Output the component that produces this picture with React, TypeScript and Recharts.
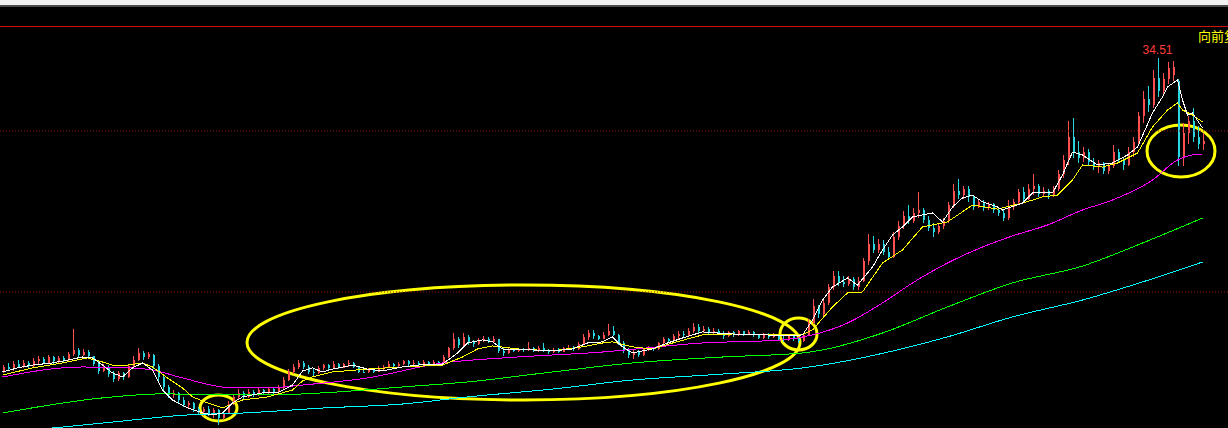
import {
  ComposedChart,
  Bar,
  Line,
  XAxis,
  YAxis,
  ReferenceLine,
  ReferenceArea,
  ReferenceDot,
} from "recharts";

// daily candles, index = trading day
const OPEN = [
  15.1, 15.35, 15.2, 15.55, 15.35, 15.6, 15.4, 15.7, 15.85, 15.6, 15.95, 15.7, 15.9, 15.75, 16.15, 16.4, 16.1, 16.3, 16.0, 15.55,
  15.1, 15.35, 14.9, 14.6, 14.95, 14.7, 15.4, 15.8, 16.2, 15.95, 16.1, 15.4, 14.7, 14.1, 13.6, 13.75, 13.3, 13.0, 13.1, 12.75,
  12.55, 12.7, 12.45, 12.65, 12.2, 12.5, 13.05, 13.45, 13.7, 13.45, 13.8, 13.6, 13.9, 13.75, 13.95, 13.8, 14.05, 14.55, 15.0, 15.35,
  15.6, 15.35, 15.05, 14.95, 15.25, 15.45, 15.25, 15.55, 15.3, 15.5, 15.6, 15.35, 15.05, 15.0, 15.2, 15.05, 15.3, 15.35, 15.55, 15.4,
  15.55, 15.7, 15.5, 15.6, 15.5, 15.65, 15.55, 15.65, 15.6, 15.95, 16.5, 17.1, 16.7, 17.2, 16.9, 16.75, 17.0, 17.1, 16.9, 17.05,
  16.35, 16.2, 16.45, 16.35, 16.45, 16.4, 16.55, 16.4, 16.5, 16.35, 16.25, 16.4, 16.3, 16.5, 16.55, 16.45, 16.75, 17.2, 17.45, 17.25,
  17.1, 17.35, 17.55, 17.35, 16.85, 16.4, 16.1, 16.3, 16.1, 16.45, 16.55, 16.45, 16.8, 17.05, 16.95, 17.25, 17.4, 17.3, 17.6, 17.8,
  17.55, 17.7, 17.45, 17.6, 17.45, 17.25, 17.5, 17.3, 17.55, 17.4, 17.5, 17.3, 17.15, 17.35, 17.2, 17.3, 17.1, 17.0, 17.25, 17.05,
  16.95, 17.35, 18.1, 19.1, 18.6, 19.3, 20.3, 21.0, 20.6, 20.5, 20.8, 20.3, 20.7, 21.9, 23.0, 22.6, 23.0, 22.5, 22.2, 23.4,
  24.1, 24.7, 24.4, 24.9, 25.1, 24.5, 24.0, 23.7, 24.1, 24.4, 25.4, 26.3, 26.0, 26.4, 25.9, 25.3, 25.6, 25.2, 25.45, 25.1,
  24.9, 24.6, 25.3, 25.6, 26.2, 25.8, 26.4, 26.6, 26.1, 26.3, 26.0, 26.4, 27.3, 28.2, 29.6, 28.7, 28.3, 28.7, 28.1, 27.8,
  28.0, 27.5, 27.8, 28.7, 28.2, 27.9, 28.7, 29.3, 30.9, 32.0, 31.6, 33.3, 32.5, 33.2, 33.5, 33.1, 28.4, 29.9, 30.6, 29.6,
  29.2,
];
const HIGH = [
  15.45, 15.6, 15.7, 15.8, 15.75, 15.7, 15.9, 16.05, 15.95, 16.1, 16.05, 16.0, 16.0, 16.3, 17.7, 16.5, 16.45, 16.4, 16.05, 15.7,
  15.5, 15.45, 15.1, 15.1, 15.05, 15.5, 16.0, 16.5, 16.35, 16.3, 16.15, 15.5, 14.8, 14.2, 13.9, 13.8, 13.45, 13.25, 13.15, 12.85,
  12.85, 12.9, 12.8, 12.7, 12.6, 13.2, 13.6, 13.95, 13.85, 13.95, 13.9, 14.05, 14.0, 14.1, 14.05, 14.2, 14.7, 15.2, 15.55, 15.75,
  15.7, 15.45, 15.2, 15.4, 15.55, 15.55, 15.7, 15.6, 15.6, 15.75, 15.65, 15.4, 15.2, 15.3, 15.25, 15.4, 15.45, 15.7, 15.6, 15.65,
  15.8, 15.75, 15.75, 15.7, 15.75, 15.7, 15.75, 15.7, 16.1, 16.6, 17.45, 17.2, 17.45, 17.3, 17.0, 17.15, 17.25, 17.2, 17.25, 17.1,
  16.6, 16.55, 16.5, 16.55, 16.55, 16.9, 16.6, 16.65, 16.85, 16.45, 16.5, 16.5, 16.6, 16.7, 16.65, 16.9, 17.4, 17.65, 17.65, 17.35,
  17.5, 18.0, 17.9, 17.4, 16.95, 16.55, 16.4, 16.4, 16.55, 16.65, 16.6, 16.9, 17.2, 17.15, 17.4, 17.55, 17.6, 17.75, 18.1, 18.0,
  17.9, 17.8, 17.75, 17.7, 17.55, 17.6, 17.6, 17.65, 17.6, 17.65, 17.6, 17.4, 17.45, 17.45, 17.45, 17.4, 17.25, 17.35, 17.35, 17.15,
  17.45, 18.3, 19.55, 19.2, 19.5, 20.5, 21.3, 21.3, 21.0, 21.0, 20.9, 20.9, 22.1, 23.6, 23.5, 23.3, 23.2, 22.8, 23.7, 24.4,
  25.0, 25.4, 25.2, 26.2, 25.2, 24.7, 24.3, 24.3, 24.6, 25.6, 26.7, 27.0, 26.6, 26.6, 26.0, 25.8, 25.7, 25.6, 25.55, 25.3,
  25.1, 25.7, 25.8, 26.4, 26.5, 26.7, 27.3, 26.7, 26.5, 26.4, 26.6, 27.6, 28.5, 30.6, 30.8, 29.4, 29.0, 28.9, 28.3, 28.2,
  28.1, 28.0, 29.1, 28.9, 28.4, 29.0, 29.6, 31.2, 32.5, 32.8, 33.8, 34.51, 33.6, 34.3, 34.35, 33.2, 30.5, 30.9, 31.4, 30.3,
  29.9,
];
const LOW = [
  14.98, 15.1, 15.1, 15.25, 15.25, 15.3, 15.3, 15.55, 15.5, 15.5, 15.55, 15.6, 15.65, 15.7, 16.0, 15.95, 16.0, 15.9, 15.4, 14.9,
  15.0, 14.7, 14.4, 14.5, 14.55, 14.65, 15.3, 15.7, 15.8, 15.85, 15.2, 14.5, 13.9, 13.4, 13.4, 13.1, 12.85, 12.75, 12.55, 12.35,
  12.3, 12.3, 12.2, 11.75, 12.05, 12.4, 12.95, 13.3, 13.3, 13.4, 13.45, 13.55, 13.6, 13.65, 13.65, 13.75, 14.0, 14.45, 14.9, 15.2,
  15.2, 14.9, 14.75, 14.9, 15.15, 15.15, 15.2, 15.2, 15.25, 15.35, 15.25, 14.95, 14.95, 14.95, 14.95, 15.0, 15.15, 15.3, 15.3, 15.35,
  15.45, 15.4, 15.45, 15.4, 15.45, 15.45, 15.5, 15.5, 15.55, 15.9, 16.4, 16.55, 16.6, 16.7, 16.6, 16.7, 16.9, 16.8, 16.85, 16.2,
  16.0, 16.15, 16.25, 16.3, 16.3, 16.35, 16.3, 16.3, 16.25, 16.15, 16.2, 16.2, 16.25, 16.4, 16.35, 16.4, 16.7, 17.0, 17.1, 17.0,
  17.05, 17.25, 17.25, 16.7, 16.2, 15.9, 15.85, 15.95, 16.05, 16.35, 16.35, 16.4, 16.7, 16.8, 16.9, 17.1, 17.15, 17.25, 17.45, 17.4,
  17.45, 17.35, 17.4, 17.35, 17.1, 17.2, 17.2, 17.25, 17.25, 17.35, 17.2, 17.05, 17.1, 17.05, 17.15, 17.0, 16.9, 16.95, 16.95, 16.85,
  16.9, 17.3, 18.0, 18.4, 18.5, 19.2, 20.1, 20.4, 20.3, 20.4, 20.1, 20.1, 20.6, 21.7, 22.4, 22.4, 22.3, 22.0, 22.1, 23.2,
  23.9, 24.2, 24.3, 24.6, 24.3, 23.8, 23.4, 23.6, 23.9, 24.3, 25.2, 25.8, 25.8, 25.6, 25.1, 25.2, 25.0, 25.1, 24.9, 24.7,
  24.4, 24.5, 25.1, 25.4, 25.6, 25.7, 26.0, 25.9, 25.9, 25.8, 25.9, 26.3, 27.1, 27.9, 28.3, 28.0, 28.1, 27.9, 27.6, 27.4,
  27.3, 27.3, 27.7, 28.0, 27.6, 27.8, 28.4, 29.1, 30.5, 31.2, 31.4, 32.1, 32.2, 32.9, 33.1, 27.8, 27.8, 29.2, 29.3, 28.9,
  28.8,
];
const CLOSE = [
  15.35, 15.2, 15.55, 15.35, 15.6, 15.4, 15.7, 15.85, 15.6, 15.95, 15.7, 15.9, 15.75, 16.15, 16.4, 16.1, 16.3, 16.0, 15.55, 15.1,
  15.35, 14.9, 14.6, 14.95, 14.7, 15.4, 15.8, 16.2, 15.95, 16.15, 15.4, 14.7, 14.1, 13.6, 13.75, 13.3, 13.0, 13.1, 12.75, 12.55,
  12.7, 12.45, 12.65, 12.2, 12.5, 13.05, 13.45, 13.7, 13.45, 13.8, 13.6, 13.9, 13.75, 13.95, 13.8, 14.05, 14.55, 15.0, 15.35, 15.6,
  15.35, 15.05, 14.95, 15.25, 15.45, 15.25, 15.55, 15.3, 15.5, 15.6, 15.35, 15.05, 15.0, 15.2, 15.05, 15.3, 15.35, 15.55, 15.4, 15.55,
  15.7, 15.5, 15.6, 15.5, 15.65, 15.55, 15.65, 15.6, 15.95, 16.5, 17.1, 16.7, 17.2, 16.9, 16.75, 17.0, 17.1, 16.9, 17.05, 16.35,
  16.2, 16.45, 16.35, 16.45, 16.4, 16.55, 16.4, 16.5, 16.35, 16.25, 16.4, 16.3, 16.5, 16.55, 16.45, 16.75, 17.2, 17.45, 17.25, 17.1,
  17.35, 17.55, 17.35, 16.85, 16.4, 16.1, 16.3, 16.1, 16.45, 16.55, 16.45, 16.8, 17.05, 16.95, 17.25, 17.4, 17.3, 17.6, 17.8, 17.55,
  17.7, 17.45, 17.6, 17.45, 17.25, 17.5, 17.3, 17.55, 17.4, 17.5, 17.3, 17.15, 17.35, 17.2, 17.3, 17.1, 17.0, 17.25, 17.05, 16.95,
  17.35, 18.1, 19.1, 18.6, 19.3, 20.3, 21.0, 20.6, 20.5, 20.8, 20.3, 20.7, 21.9, 23.0, 22.6, 23.0, 22.5, 22.2, 23.4, 24.1,
  24.7, 24.4, 24.9, 25.1, 24.5, 24.0, 23.7, 24.1, 24.4, 25.4, 26.3, 26.0, 26.4, 25.9, 25.3, 25.6, 25.2, 25.45, 25.1, 24.9,
  24.6, 25.3, 25.6, 26.2, 25.8, 26.4, 26.6, 26.1, 26.3, 26.0, 26.4, 27.3, 28.2, 29.6, 28.7, 28.3, 28.7, 28.1, 27.8, 28.0,
  27.5, 27.8, 28.7, 28.2, 27.9, 28.7, 29.3, 30.9, 32.0, 31.6, 33.3, 32.5, 33.2, 33.9, 34.0, 28.4, 29.9, 30.6, 29.6, 29.2,
  29.4,
];

// moving averages: [day, price]
const MA5: [number, number][] = [
  [0, 15.03], [3, 15.28], [6, 15.46], [10, 15.59], [13, 15.77], [16, 15.96], [18, 15.9], [20, 15.46], [22, 14.97], [24, 14.72],
  [26, 15.28], [28, 15.59], [30, 15.15], [32, 13.91], [34, 13.29], [37, 12.8], [40, 12.49], [42, 12.36], [44, 12.49], [46, 13.11],
  [48, 13.48], [52, 13.73], [55, 13.73], [58, 14.22], [60, 15.09], [62, 15.28], [64, 15.03], [66, 15.21], [70, 15.46], [73, 15.21],
  [76, 15.09], [80, 15.34], [83, 15.46], [88, 15.52], [91, 16.21], [93, 16.83], [96, 17.02], [98, 16.9], [100, 16.46], [103, 16.4],
  [106, 16.4], [110, 16.34], [114, 16.46], [117, 16.83], [120, 16.9], [122, 17.21], [124, 16.59], [126, 16.21], [128, 16.34], [130, 16.46],
  [133, 16.83], [136, 17.14], [140, 17.52], [143, 17.45], [146, 17.39], [150, 17.33], [153, 17.33], [156, 17.27], [160, 17.33], [162, 18.26],
  [164, 19.5], [166, 20.31], [169, 20.87], [171, 20.43], [174, 21.55], [176, 22.61], [178, 23.54], [180, 24.04], [182, 24.66], [186, 24.91],
  [188, 24.35], [190, 25.28], [192, 25.84], [194, 26.02], [196, 25.59], [199, 25.28], [200, 25.09], [204, 25.52], [206, 26.15], [210, 26.15],
  [212, 27.27], [214, 28.69], [216, 28.51], [219, 27.89], [222, 28.01], [225, 28.51], [227, 29.0], [230, 31.12], [232, 32.11], [233, 32.73],
  [235, 33.17], [236, 31.92], [237, 30.99], [238, 31.12], [240, 30.18],
];
const MA10: [number, number][] = [
  [0, 14.84], [6, 15.28], [13, 15.65], [17, 15.9], [20, 15.65], [22, 15.46], [25, 15.46], [28, 15.59], [30, 15.34], [33, 14.66],
  [36, 14.04], [38, 13.48], [41, 13.11], [44, 12.8], [48, 13.29], [53, 13.48], [58, 13.91], [60, 14.47], [62, 14.72], [66, 15.03],
  [73, 15.21], [80, 15.34], [88, 15.46], [92, 15.96], [95, 16.46], [98, 16.65], [103, 16.46], [110, 16.34], [116, 16.59], [120, 16.83],
  [122, 16.9], [126, 16.59], [130, 16.46], [134, 16.83], [140, 17.33], [146, 17.39], [156, 17.33], [160, 17.33], [162, 17.64], [166, 19.07],
  [169, 19.94], [172, 20.0], [176, 21.8], [180, 22.61], [184, 24.04], [189, 24.35], [194, 25.4], [199, 25.15], [204, 25.52], [208, 25.9],
  [211, 26.02], [214, 26.95], [216, 27.89], [220, 27.76], [223, 28.01], [227, 28.63], [230, 30.25], [233, 31.3], [235, 31.74], [236, 31.3],
  [238, 30.99], [240, 30.56],
];
const MA30: [number, number][] = [
  [0, 14.72], [16, 15.34], [26, 15.28], [30, 15.15], [36, 14.66], [46, 14.04], [53, 14.04], [60, 14.22], [73, 14.66], [88, 15.59],
  [100, 15.9], [120, 16.27], [140, 16.83], [156, 17.02], [162, 17.33], [169, 18.07], [176, 19.32], [182, 20.56], [189, 21.8], [196, 22.79],
  [202, 23.48], [209, 24.16], [216, 25.09], [222, 25.71], [230, 26.95], [235, 28.2], [238, 28.51], [240, 28.57],
];
const MA120: [number, number][] = [
  [0, 12.48], [20, 13.42], [32, 13.67], [44, 13.6], [53, 13.6], [64, 13.73], [80, 14.1], [93, 14.41], [110, 15.03], [126, 15.59],
  [144, 15.96], [160, 16.21], [164, 16.4], [176, 17.45], [189, 19.07], [202, 20.56], [216, 21.61], [228, 23.04], [240, 24.59],
];
const MA250: [number, number][] = [
  [0, 11.3], [10, 11.55], [22, 11.92], [37, 12.36], [48, 12.48], [64, 12.79], [80, 13.04], [93, 13.48], [110, 13.97], [126, 14.53],
  [144, 14.9], [160, 15.28], [179, 16.4], [189, 17.21], [202, 18.45], [216, 19.5], [228, 20.62], [240, 21.86],
];

// hand-drawn circles on the chart, in day/price units
const MARKS = [
  { x1: 39.5, x2: 46.9, y1: 11.99, y2: 13.6 },
  { x1: 48.9, x2: 159.5, y1: 13.29, y2: 20.43 },
  { x1: 155.5, x2: 162.9, y1: 16.4, y2: 18.38 },
  { x1: 228.9, x2: 242.5, y1: 27.14, y2: 30.37 },
];

const Y_MIN = 11.55;
const Y_MAX = 36.52;
const UP = "#ff4f4f";
const DOWN = "#2ad6e0";

const toMap = (pts: [number, number][]) => new Map(pts.map(([i, v]) => [i, v]));
const m5 = toMap(MA5);
const m10 = toMap(MA10);
const m30 = toMap(MA30);
const m120 = toMap(MA120);
const m250 = toMap(MA250);

const rows = OPEN.map((o, i) => ({
  i,
  open: o,
  high: HIGH[i],
  low: LOW[i],
  close: CLOSE[i],
  ma5: m5.get(i),
  ma10: m10.get(i),
  ma30: m30.get(i),
  ma120: m120.get(i),
  ma250: m250.get(i),
}));

const peakIdx = HIGH.indexOf(Math.max(...HIGH));

function Candle(props: any) {
  const { x, y, width, height, index } = props;
  const d = rows[index] ?? props.payload;
  if (!d) return null;
  const cx = Math.round(x + width / 2);
  const top = Math.min(y, y + height);
  const h = Math.max(1, Math.abs(height));
  const k = h / (d.high - d.low);
  const bTop = top + (d.high - Math.max(d.open, d.close)) * k;
  const bH = Math.max(1, Math.abs(d.open - d.close) * k);
  const color = d.close >= d.open ? UP : DOWN;
  return (
    <g shapeRendering="crispEdges">
      <rect x={cx} y={top} width={1} height={h} fill={color} />
      <rect x={cx} y={bTop} width={2} height={bH} fill={color} />
    </g>
  );
}

function Ellipse(props: any) {
  const { x, y, width, height } = props;
  return (
    <ellipse
      cx={x + width / 2}
      cy={y + height / 2}
      rx={Math.abs(width) / 2}
      ry={Math.abs(height) / 2}
      fill="none"
      stroke="#ffff00"
      strokeWidth={3}
    />
  );
}

const lineProps = {
  strokeWidth: 1,
  dot: false,
  connectNulls: true,
  isAnimationActive: false,
  shapeRendering: "crispEdges",
} as const;

export default function App() {
  return (
    <div
      style={{
        position: "fixed",
        left: 0,
        top: 0,
        width: 1228,
        height: 428,
        background: "#000",
        overflow: "hidden",
        fontFamily: "'Liberation Sans', Arial, sans-serif",
      }}
    >
      <div style={{ position: "absolute", left: 0, top: 0, width: 1228, height: 5, background: "#f0f0f0" }} />
      <div style={{ position: "absolute", left: 0, top: 5, width: 1228, height: 2, background: "#4a4a4a" }} />
      <div
        style={{
          position: "absolute",
          left: 1198,
          top: 28,
          color: "#ffff00",
          fontSize: 13,
          whiteSpace: "nowrap",
          fontFamily: "'Noto Sans CJK SC', sans-serif",
          lineHeight: "16px",
        }}
      >
        向前复权
      </div>
      <div style={{ position: "absolute", left: 0, top: 0 }}>
        <ComposedChart
          width={1228}
          height={428}
          data={rows}
          margin={{ top: 26, right: 0, bottom: 0, left: 0 }}
        >
          <XAxis dataKey="i" type="number" domain={[-0.5, 245.1]} allowDataOverflow hide />
          <YAxis type="number" domain={[Y_MIN, Y_MAX]} allowDataOverflow hide />
          <ReferenceLine y={Y_MAX} stroke="#d01010" strokeWidth={1} shapeRendering="crispEdges" />
          <ReferenceLine y={30} stroke="#9a1414" strokeDasharray="1 2" />
          <ReferenceLine y={20} stroke="#9a1414" strokeDasharray="1 2" />
          <Bar
            dataKey={(d: any) => [d.low, d.high]}
            barSize={1}
            shape={<Candle />}
            isAnimationActive={false}
          />
          <Line dataKey="ma250" type="monotone" stroke="#00ffff" {...lineProps} />
          <Line dataKey="ma120" type="monotone" stroke="#00ff00" {...lineProps} />
          <Line dataKey="ma30" type="monotone" stroke="#ff00ff" {...lineProps} />
          <Line dataKey="ma10" type="linear" stroke="#ffff00" {...lineProps} />
          <Line dataKey="ma5" type="linear" stroke="#ffffff" {...lineProps} />
          {MARKS.map((m, k) => (
            <ReferenceArea
              key={k}
              x1={m.x1}
              x2={m.x2}
              y1={m.y1}
              y2={m.y2}
              ifOverflow="visible"
              shape={<Ellipse />}
            />
          ))}
          <ReferenceDot
            x={peakIdx}
            y={HIGH[peakIdx]}
            r={0}
            fill="none"
            stroke="none"
            label={{
              value: HIGH[peakIdx].toFixed(2),
              position: "top",
              offset: 4,
              fill: "#ff3c3c",
              fontSize: 12,
              fontFamily: "'Liberation Sans', Arial, sans-serif",
            }}
          />
        </ComposedChart>
      </div>
    </div>
  );
}
